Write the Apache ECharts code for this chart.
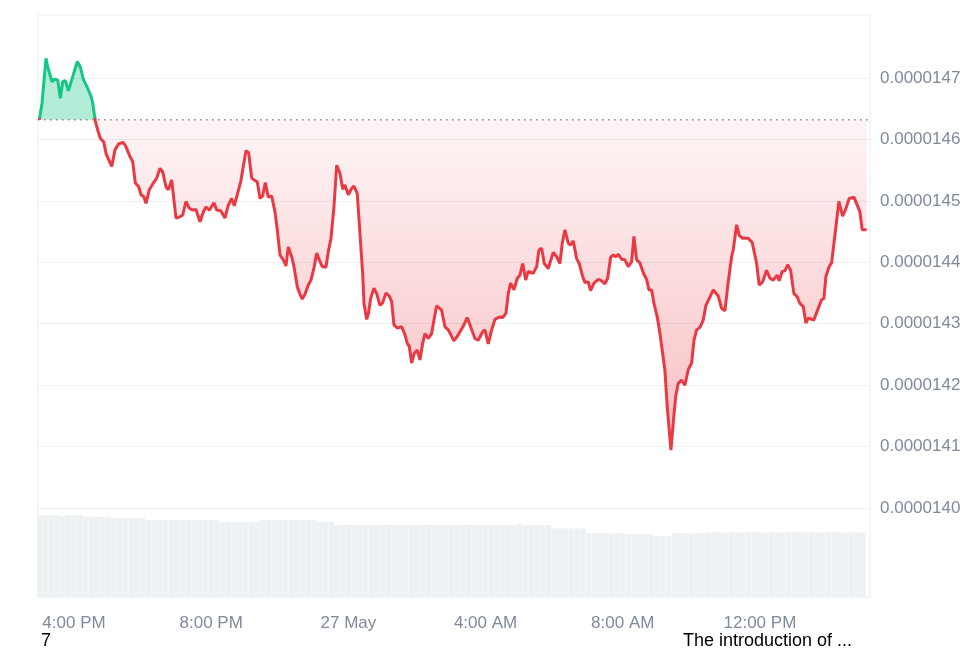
<!DOCTYPE html>
<html><head><meta charset="utf-8">
<script src="https://cdn.jsdelivr.net/npm/echarts@6/dist/echarts.min.js"></script>
<style>html,body{margin:0;padding:0;background:#fff}#c{width:977px;height:650px}</style>
</head><body><div id="c"></div>
<script>
// hours relative to 4:00 PM (26 May)
const hours = [-1.012,-0.933,-0.816,-0.767,-0.641,-0.574,-0.475,-0.399,-0.329,-0.254,-0.166,-0.038,0.096,0.184,0.271,0.399,0.496,0.545,0.621,
0.691,0.767,0.866,0.933,1.012,1.099,1.195,1.303,1.437,1.516,1.633,1.711,1.787,1.886,1.953,2.032,2.099,2.195,2.312,2.411,2.507,2.586,2.682,2.749,2.848,2.974,3.090,3.169,3.265,3.362,3.461,3.557,3.673,
3.770,3.848,3.945,4.082,4.160,4.277,4.402,4.499,4.598,4.673,4.761,4.860,4.936,5.015,5.093,5.181,5.277,5.344,5.423,5.501,5.577,5.665,5.764,5.860,5.927,6.006,6.102,6.181,6.248,6.347,6.414,6.510,6.589,6.656,6.735,6.831,6.910,7.006,7.076,7.152,7.239,7.347,7.414,7.493,7.580,7.659,7.755,7.834,7.901,7.997,8.096,8.163,8.259,8.338,8.417,8.455,8.534,
8.586,8.650,8.746,8.825,8.921,9.000,9.096,9.192,9.262,9.329,9.426,9.554,9.650,9.717,9.776,9.845,9.921,10.009,10.087,10.166,10.233,10.329,10.428,10.496,10.574,10.720,10.816,10.913,11.079,11.204,11.350,11.466,11.566,11.691,11.787,11.915,11.983,12.079,12.178,12.274,12.399,12.499,12.595,12.662,12.732,12.828,12.924,13.003,13.082,13.169,13.245,
13.391,13.490,13.557,13.636,13.711,13.828,13.974,14.073,14.169,14.236,14.315,14.411,14.481,14.557,14.656,14.732,14.831,14.898,14.994,15.064,15.160,15.286,15.356,15.481,15.560,15.647,15.723,15.802,15.869,15.968,16.064,16.160,16.259,16.327,16.405,16.501,16.598,16.697,16.764,16.843,16.910,17.006,17.085,17.163,17.230,17.297,17.405,17.472,17.542,17.618,17.717,17.813,17.910,18.009,18.076,18.155,18.251,
18.347,18.426,18.522,18.639,18.785,18.884,18.980,19.076,19.175,19.222,19.321,19.397,19.496,19.659,19.776,19.834,19.904,19.980,20.079,20.195,20.292,20.388,20.504,20.563,20.650,20.729,20.808,20.895,20.991,21.087,21.166,21.262,21.341,21.408,21.574,21.700,21.799,21.866,21.924,22.020,22.090,22.187,22.303,22.411,22.499,22.603,22.741,22.837,22.915,22.983,23.111];

const price = [1.4632e-5,1.4659e-5,1.4732e-5,1.4718e-5,1.4694e-5,1.4698e-5,1.4697e-5,1.4667e-5,1.4694e-5,1.4696e-5,1.4679e-5,1.4702e-5,1.4727e-5,1.4718e-5,1.4698e-5,1.4683e-5,1.4670e-5,1.4659e-5,1.4630e-5,
1.4615e-5,1.4602e-5,1.4596e-5,1.4577e-5,1.4567e-5,1.4556e-5,1.4583e-5,1.4593e-5,1.4595e-5,1.4588e-5,1.4572e-5,1.4564e-5,1.4529e-5,1.4523e-5,1.4510e-5,1.4507e-5,1.4496e-5,1.4518e-5,1.4529e-5,1.4537e-5,1.4553e-5,1.4547e-5,1.4523e-5,1.4518e-5,1.4534e-5,1.4472e-5,1.4474e-5,1.4477e-5,1.4499e-5,1.4488e-5,1.4485e-5,1.4486e-5,1.4466e-5,
1.4482e-5,1.4490e-5,1.4485e-5,1.4497e-5,1.4485e-5,1.4484e-5,1.4472e-5,1.4493e-5,1.4504e-5,1.4492e-5,1.4510e-5,1.4531e-5,1.4556e-5,1.4582e-5,1.4578e-5,1.4537e-5,1.4533e-5,1.4531e-5,1.4504e-5,1.4508e-5,1.4530e-5,1.4506e-5,1.4508e-5,1.4482e-5,1.4453e-5,1.4412e-5,1.4404e-5,1.4394e-5,1.4425e-5,1.4409e-5,1.4393e-5,1.4360e-5,1.4348e-5,1.4340e-5,1.4348e-5,1.4363e-5,1.4371e-5,1.4393e-5,1.4415e-5,1.4404e-5,1.4393e-5,1.4392e-5,1.4417e-5,1.4439e-5,1.4490e-5,1.4558e-5,1.4545e-5,1.4519e-5,1.4526e-5,1.4510e-5,1.4520e-5,1.4524e-5,1.4512e-5,1.4447e-5,1.4382e-5,1.4333e-5,1.4307e-5,
1.4317e-5,1.4341e-5,1.4358e-5,1.4349e-5,1.4330e-5,1.4334e-5,1.4350e-5,1.4345e-5,1.4336e-5,1.4298e-5,1.4293e-5,1.4295e-5,1.4282e-5,1.4268e-5,1.4263e-5,1.4236e-5,1.4252e-5,1.4257e-5,1.4241e-5,1.4268e-5,1.4284e-5,1.4276e-5,1.4284e-5,1.4306e-5,1.4329e-5,1.4322e-5,1.4295e-5,1.4290e-5,1.4272e-5,1.4282e-5,1.4296e-5,1.4310e-5,1.4295e-5,1.4276e-5,1.4273e-5,1.4287e-5,1.4290e-5,1.4267e-5,1.4290e-5,1.4307e-5,1.4311e-5,1.4310e-5,1.4317e-5,1.4349e-5,1.4366e-5,1.4355e-5,1.4374e-5,1.4379e-5,1.4398e-5,1.4371e-5,1.4385e-5,
1.4382e-5,1.4393e-5,1.4420e-5,1.4423e-5,1.4398e-5,1.4390e-5,1.4416e-5,1.4409e-5,1.4398e-5,1.4431e-5,1.4453e-5,1.4431e-5,1.4428e-5,1.4435e-5,1.4406e-5,1.4398e-5,1.4377e-5,1.4367e-5,1.4368e-5,1.4354e-5,1.4366e-5,1.4372e-5,1.4371e-5,1.4365e-5,1.4374e-5,1.4408e-5,1.4412e-5,1.4409e-5,1.4413e-5,1.4405e-5,1.4404e-5,1.4393e-5,1.4401e-5,1.4442e-5,1.4404e-5,1.4399e-5,1.4383e-5,1.4372e-5,1.4355e-5,1.4355e-5,1.4333e-5,1.4311e-5,1.4284e-5,1.4252e-5,1.4224e-5,1.4165e-5,1.4094e-5,1.4138e-5,1.4181e-5,1.4203e-5,1.4208e-5,1.4200e-5,1.4225e-5,1.4236e-5,1.4273e-5,1.4290e-5,1.4294e-5,
1.4306e-5,1.4330e-5,1.4341e-5,1.4355e-5,1.4345e-5,1.4325e-5,1.4321e-5,1.4368e-5,1.4409e-5,1.4420e-5,1.4461e-5,1.4444e-5,1.4439e-5,1.4439e-5,1.4432e-5,1.4430e-5,1.4398e-5,1.4363e-5,1.4368e-5,1.4387e-5,1.4374e-5,1.4371e-5,1.4379e-5,1.4370e-5,1.4385e-5,1.4386e-5,1.4396e-5,1.4387e-5,1.4349e-5,1.4344e-5,1.4333e-5,1.4328e-5,1.4301e-5,1.4309e-5,1.4306e-5,1.4325e-5,1.4339e-5,1.4341e-5,1.4377e-5,1.4393e-5,1.4399e-5,1.4444e-5,1.4499e-5,1.4475e-5,1.4486e-5,1.4504e-5,1.4506e-5,1.4493e-5,1.4482e-5,1.4453e-5,1.4453e-5];

const openPrice = 1.4632e-5;

const xTickHours = [0, 4, 8, 12, 16, 20];
const xTickLabels = ['4:00 PM', '8:00 PM', '27 May', '4:00 AM', '8:00 AM', '12:00 PM'];
const yTickValues = [1.40e-5, 1.41e-5, 1.42e-5, 1.43e-5, 1.44e-5, 1.45e-5, 1.46e-5, 1.47e-5];

// volume bars every 10 minutes starting at 3:00 PM (relative units)
const volStartHour = -1;
const volStepHours = 1 / 6;
const volume = [41,41,41,41,40.5,41,41,41,40.15,40.15,40.15,40.15,40.15,
39.35,39.35,39.35,39.35,39.35,39.35,
38.5,38.5,38.5,38.5,38.5,38.5,38.5,38.5,38.5,38.5,38.5,38.5,38.5,
37.5,37.5,37.5,37.5,37.5,37.5,37.5,
38.5,38.5,38.5,38.5,38.5,38.5,38.5,38.5,38.5,38.5,
37.65,37.65,37.65,
36,36,36,36,36,36,36,36,36,36,36,36,36,36,36,36,36,36,36,36,36,36,36,36,36,36,36,36,36,36,36,36,36.7,36,36,36,36,36,
34.35,34.35,34.35,34.35,34.35,34.35,
31.85,31.85,31.85,31.85,31.85,31.85,31.85,
31.35,31.35,31.35,31.35,31.35,
30.5,30.5,30.5,
31.85,31.85,31.85,31.85,31.85,31.85,
32.35,32.35,32.35,32.35,32.35,32.35,32.35,32.35,32.35,32.35,32.35,32.35,32.35,32.35,32.35,32.35,32.35,32.35,32.35,32.35,32.35,32.35,32.35,32.35,32.35,32.35,32.35,32.35];

const annotations = ['7', 'The introduction of ...'];

const GREEN = '#16c784', RED = '#ea3943';
const FONT = '"Liberation Sans", Arial, sans-serif';

const lineData = hours.map((h, i) => [h, price[i]]);
const upData = hours.map((h, i) => [h, Math.max(price[i], openPrice)]);
const downData = hours.map((h, i) => [h, Math.min(price[i], openPrice)]);
const volData = volume.map((v, i) => [volStartHour + i * volStepHours, v]);

// split point of the line's colour, as a fraction of its vertical extent
const pMax = Math.max(...price), pMin = Math.min(...price);
const f = (pMax - openPrice) / (pMax - pMin);
const lineColor = new echarts.graphic.LinearGradient(0, 0, 0, 1, [
  { offset: 0, color: GREEN }, { offset: f, color: GREEN },
  { offset: f, color: RED }, { offset: 1, color: RED }]);

const X_MIN = -1.05, X_MAX = 23.21;

const chart = echarts.init(document.getElementById('c'));
chart.setOption({
  animation: false,
  backgroundColor: '#fff',
  grid: [
    { left: 38, right: 107, top: 16.6, bottom: 80.6 },
    { left: 38, right: 107, top: 15, bottom: 53, show: true, borderColor: '#eceef1', borderWidth: 1 }
  ],
  xAxis: [
    { type: 'value', gridIndex: 0, min: X_MIN, max: X_MAX, show: false },
    { type: 'value', gridIndex: 1, min: X_MIN, max: X_MAX,
      axisLine: { show: false }, axisTick: { show: false }, splitLine: { show: false },
      axisLabel: { customValues: xTickHours, formatter: v => { const k = xTickHours.indexOf(v); return k >= 0 ? xTickLabels[k] : ''; },
        color: '#808a9d', fontSize: 17, fontFamily: FONT, margin: 18 } }
  ],
  yAxis: [
    { type: 'value', gridIndex: 0, position: 'right', min: 1.39e-5, max: 1.48e-5, interval: 1e-7,
      axisLine: { show: false }, axisTick: { show: false },
      splitLine: { show: true, showMinLine: false, showMaxLine: false, lineStyle: { color: '#eceef1', width: 1 } },
      axisLabel: { customValues: yTickValues, formatter: v => v.toFixed(7), color: '#808a9d', fontSize: 17, fontFamily: FONT, margin: 10 } },
    { type: 'value', gridIndex: 1, min: 0, max: 291, show: false }
  ],
  series: [
    { type: 'line', xAxisIndex: 0, yAxisIndex: 0, data: lineData, symbol: 'none', showSymbol: false,
      lineStyle: { width: 3, color: lineColor }, z: 5 },
    { type: 'line', xAxisIndex: 0, yAxisIndex: 0, data: upData, symbol: 'none', silent: true,
      lineStyle: { width: 0, opacity: 0 }, areaStyle: { origin: openPrice, color: 'rgba(22,199,132,0.32)', opacity: 1 }, z: 3 },
    { type: 'line', xAxisIndex: 0, yAxisIndex: 0, data: downData, symbol: 'none', silent: true,
      lineStyle: { width: 0, opacity: 0 },
      areaStyle: { origin: openPrice, opacity: 1, color: new echarts.graphic.LinearGradient(0, 0, 0, 1, [
        { offset: 0, color: 'rgba(234,57,67,0.05)' }, { offset: 1, color: 'rgba(234,57,67,0.32)' }]) }, z: 3 },
    { type: 'line', xAxisIndex: 0, yAxisIndex: 0, name: 'open', silent: true, symbol: 'none',
      data: [[X_MIN, openPrice], [X_MAX, openPrice]],
      lineStyle: { color: '#8c8585', type: [1.5, 4.5], width: 1.5 }, z: 4 },
    { type: 'bar', xAxisIndex: 1, yAxisIndex: 1, data: volData, barWidth: 5.5, silent: true,
      itemStyle: { color: '#eef1f4' }, z: 1 }
  ],
  graphic: [
    { type: 'text', x: 41, y: 641, style: { text: annotations[0], fill: '#000', fontSize: 18, fontFamily: FONT, verticalAlign: 'middle', align: 'left' } },
    { type: 'text', x: 683, y: 641, style: { text: annotations[1], fill: '#000', fontSize: 18, fontFamily: FONT, verticalAlign: 'middle', align: 'left' } }
  ]
});
</script></body></html>
